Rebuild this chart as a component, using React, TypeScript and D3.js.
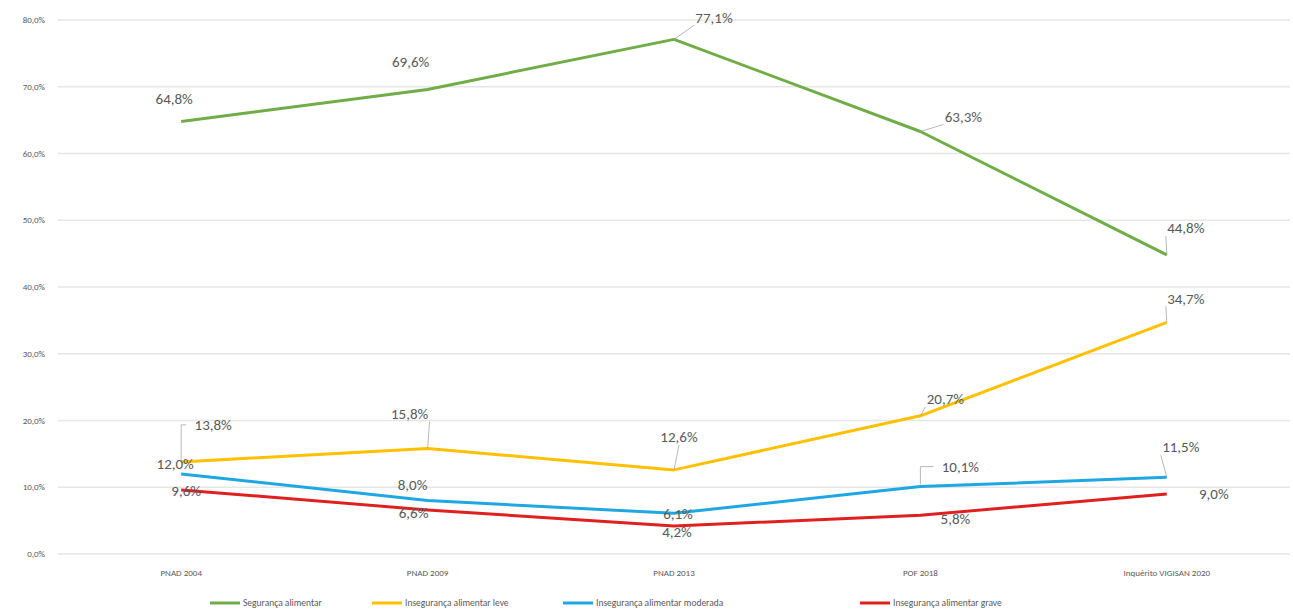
import React from "react";
import * as d3 from "d3";

const categories = ["PNAD 2004", "PNAD 2009", "PNAD 2013", "POF 2018", "Inquérito VIGISAN 2020"];
const seriesNames = [
  "Segurança alimentar",
  "Insegurança alimentar leve",
  "Insegurança alimentar moderada",
  "Insegurança alimentar grave",
];
const seguranca = [64.8, 69.6, 77.1, 63.3, 44.8];
const leve = [13.8, 15.8, 12.6, 20.7, 34.7];
const moderada = [12.0, 8.0, 6.1, 10.1, 11.5];
const grave = [9.6, 6.6, 4.2, 5.8, 9.0];
const yTicks = [0, 10, 20, 30, 40, 50, 60, 70, 80];

const colors = ["#70AD47", "#FFC000", "#1EA7E1", "#E0201F"];

// label offsets (layout only) [dx, dy, leader type: 0 none, 1 straight, 2 elbow]
const labelOffsets: [number, number, number][][] = [
  [[-7, -23, 0], [-17, -28, 0], [40, -22, 1], [43, -15, 1], [19, -27, 1]],
  [[32, -37, 2], [-18, -35, 1], [5, -33, 1], [25, -17, 1], [19, -24, 1]],
  [[-6, -10, 0], [-15, -16, 0], [4, 0, 0], [40, -20, 2], [14, -30, 1]],
  [[5, 1, 0], [-14, 3, 0], [3, 6, 0], [35, 3, 0], [47, 0, 0]],
];

const fmt = (v: number) => v.toFixed(1).replace(".", ",") + "%";

export default function App() {
  const W = 1293, H = 614;
  const left = 58, right = 1290, top = 20, bottom = 554;
  const x = d3.scaleBand<string>().domain(categories).range([left, right]);
  const y = d3.scaleLinear().domain([0, 80]).range([bottom, top]);
  const cx = (c: string) => (x(c) as number) + x.bandwidth() / 2;
  const data = [seguranca, leve, moderada, grave];
  const line = d3
    .line<number>()
    .x((_, i) => cx(categories[i]))
    .y((d) => y(d));

  const legendX = [210, 372, 563, 860];

  return (
    <svg
      width={W}
      height={H}
      style={{ position: "absolute", left: 0, top: 0, background: "#fff" }}
      fontFamily="Calibri, Carlito, 'Liberation Sans', Arial, sans-serif"
    >
      {yTicks.map((t) => (
        <g key={t}>
          <line x1={left} x2={right} y1={y(t)} y2={y(t)} stroke="#e6e6e6" strokeWidth={1.5} />
          <text x={45} y={y(t)} dy="0.35em" textAnchor="end" fontSize={9} fill="#595959">
            {t.toFixed(1).replace(".", ",") + "%"}
          </text>
        </g>
      ))}
      {categories.map((c) => (
        <text key={c} x={cx(c)} y={573} dy="0.35em" textAnchor="middle" fontSize={9} fill="#595959">
          {c}
        </text>
      ))}
      {data.map((s, si) => (
        <path key={si} d={line(s) as string} fill="none" stroke={colors[si]} strokeWidth={3} strokeLinejoin="round" />
      ))}
      {data.map((s, si) =>
        s.map((v, i) => {
          const px = cx(categories[i]);
          const py = y(v);
          const [dx, dy, leader] = labelOffsets[si][i];
          const lx = px + dx;
          const ly = py + dy;
          let leaderEl = null;
          if (leader === 1) {
            leaderEl = (
              <line
                x1={px}
                y1={py}
                x2={lx + (dx > 10 ? -20 : dx < -10 ? 20 : 0)}
                y2={ly + 8}
                stroke="#a6a6a6"
                strokeWidth={0.8}
              />
            );
          } else if (leader === 2) {
            leaderEl = (
              <polyline
                points={`${px},${py - 2} ${px},${ly} ${lx - 27},${ly}`}
                fill="none"
                stroke="#a6a6a6"
                strokeWidth={0.8}
              />
            );
          }
          return (
            <g key={si + "-" + i}>
              {leaderEl}
              <text x={lx} y={ly} dy="0.35em" textAnchor="middle" fontSize={15} fill="#595959">
                {fmt(v)}
              </text>
            </g>
          );
        })
      )}
      {seriesNames.map((n, i) => (
        <g key={n}>
          <line x1={legendX[i]} x2={legendX[i] + 30} y1={603} y2={603} stroke={colors[i]} strokeWidth={3} />
          <text x={legendX[i] + 33} y={603} dy="0.35em" fontSize={9.5} fill="#595959">
            {n}
          </text>
        </g>
      ))}
    </svg>
  );
}
